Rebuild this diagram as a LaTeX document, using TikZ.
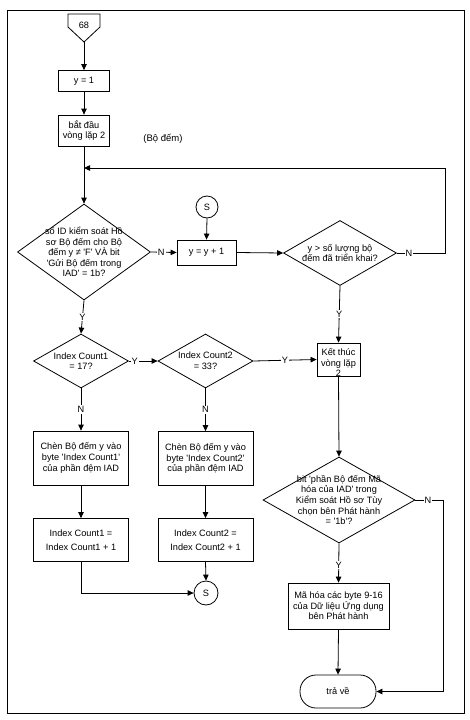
\documentclass[tikz,border=0pt]{standalone}
\usepackage{fontspec}
\setmainfont{Liberation Sans}
\usetikzlibrary{shapes.geometric,shapes.misc,arrows.meta}
\newcommand\qq{\textquotesingle}
\begin{document}
\begin{tikzpicture}[x=1pt,y=-1pt,
  every node/.style={font=\fontsize{9.2}{10.6}\selectfont},
  ln/.style={line width=0.8pt},
  boxs/.style={draw,ln,rectangle,align=center,inner sep=1pt},
  dia/.style={draw,ln,diamond,inner sep=0pt},
  txt/.style={align=center,inner sep=0pt,font=\fontsize{9.2}{10.6}\selectfont},
  arr/.style={ln,-{Triangle[length=6pt,width=5.5pt]}},
  lbl/.style={fill=white,inner sep=1pt},
  conn/.style={draw,ln,circle,inner sep=0pt,minimum size=23pt}]
\useasboundingbox (0,0) rectangle (469,720);
\draw[line width=1pt] (7,10) rectangle (464,713);
% off-page connector 68
\draw[ln] (68,14) -- (100,14) -- (100,27) -- (84,42) -- (68,27) -- cycle;
\node (n68) at (84,25) {68};
\coordinate (tip) at (84,42);
\node[boxs,minimum width=51pt,minimum height=21pt] (y1) at (84,81) {y = 1};
\node[draw,ln,chamfered rectangle,chamfered rectangle corners={north west,north east},
  chamfered rectangle xsep=5pt,chamfered rectangle ysep=5pt,inner sep=0pt,
  minimum width=51pt,minimum height=31pt,
  label={[txt]center:bắt đầu\\vòng lặp 2}] (bl) at (84,130.5) {};
\node[font=\fontsize{9.5}{11}\selectfont] (bodem) at (163,139) {(Bộ đếm)};
\node[dia,minimum width=133pt,minimum height=96pt,
  label={[txt]center:số ID kiểm soát Hồ\\sơ Bộ đếm cho Bộ\\đếm y ≠ \qq F\qq{} VÀ bit\\\qq Gửi Bộ đếm trong\\IAD\qq{} = 1b?}] (d1) at (84,252) {};
\node[boxs,minimum width=59pt,minimum height=25pt] (inc) at (206.5,252.5) {y = y + 1};
\node[conn,minimum size=22pt] (s1) at (207,207) {S};
\node[dia,minimum width=113pt,minimum height=65pt,
  label={[txt]center:y > số lượng bộ\\đếm đã triển khai?}] (d2) at (340,253) {};
\node[draw,ln,chamfered rectangle,chamfered rectangle corners={south west,south east},
  chamfered rectangle xsep=5pt,chamfered rectangle ysep=5pt,inner sep=0pt,
  minimum width=43pt,minimum height=33pt,
  label={[txt,yshift=-3pt]center:Kết thúc\\vòng lặp\\2}] (kt) at (338.5,359.5) {};
\node[dia,minimum width=95pt,minimum height=54pt,
  label={[txt]center:Index Count1\\= 17?}] (d3) at (81,361) {};
\node[dia,minimum width=95pt,minimum height=54pt,
  label={[txt]center:Index Count2\\= 33?}] (d4) at (205.5,361) {};
\node[boxs,minimum width=95pt,minimum height=54pt] (c1) at (81,458)
  {Chèn Bộ đếm y vào\\byte \qq Index Count1\qq\\của phần đệm IAD};
\node[boxs,minimum width=95pt,minimum height=54pt] (c2) at (205.5,458.5)
  {Chèn Bộ đếm y vào\\byte \qq Index Count2\qq\\của phần đệm IAD};
\node[boxs,minimum width=95pt,minimum height=43pt,font=\fontsize{9.2}{14}\selectfont] (i1) at (81,540)
  {Index Count1 =\\Index Count1 + 1};
\node[boxs,minimum width=95pt,minimum height=43pt,font=\fontsize{9.2}{14}\selectfont] (i2) at (205.5,540)
  {Index Count2 =\\Index Count2 + 1};
\node[conn,minimum size=24pt] (s2) at (206,593) {S};
\node[dia,minimum width=152pt,minimum height=86pt,
  label={[txt]center:bit \qq phần Bộ đếm Mã\\hóa của IAD\qq{} trong\\Kiểm soát Hồ sơ Tùy\\chọn bên Phát hành\\= \qq 1b\qq?}] (d5) at (339,500) {};
\node[boxs,minimum width=101pt,minimum height=46pt] (mh) at (338.5,606)
  {Mã hóa các byte 9-16\\của Dữ liệu Ứng dụng\\bên Phát hành};
\node[draw,ln,rounded corners=16pt,minimum width=76pt,minimum height=33pt] (ret) at (338,691.5) {trả về};
% connectors
\coordinate (lr) at (445,168);
\coordinate (lj) at (84,168);
\draw[arr] (tip) -- (y1.north);
\draw[arr] (y1.south) -- (bl.north);
\draw[arr] (bl.south) -- (d1.north);
\draw[arr] (d2.east) -- node[lbl,pos=0.25]{N} (d2.east -| lr) -- (lr) -- (lj);
\draw[arr] (d1.east) -- node[lbl,pos=0.4]{N} (inc.west);
\draw[arr] (s1.south) -- (inc.north);
\draw[arr] (inc.east) -- (d2.west);
\draw[arr] (d2.south) -- node[lbl]{Y} (kt.north);
\draw[arr] (d1.south) -- node[lbl]{Y} (d3.north);
\draw[arr] (d3.east) -- node[lbl,pos=0.2]{Y} (d4.west);
\draw[arr] (d4.east) -- node[lbl]{Y} (kt.west);
\draw[arr] (d3.south) -- node[lbl]{N} (c1.north);
\draw[arr] (d4.south) -- node[lbl]{N} (c2.north);
\draw[arr] (c1.south) -- (i1.north);
\draw[arr] (c2.south) -- (i2.north);
\draw[arr] (i2.south) -- (s2.north);
\draw[arr] (i1.south) |- (s2.west);
\draw[arr] (kt.south) -- (d5.north);
\draw[arr] (d5.east) -- node[lbl,pos=0.45]{N} ++(28,0) |- (ret.east);
\draw[arr] (d5.south) -- node[lbl,pos=0.55]{Y} (mh.north);
\draw[arr] (mh.south) -- (ret.north);
\end{tikzpicture}
\end{document}
